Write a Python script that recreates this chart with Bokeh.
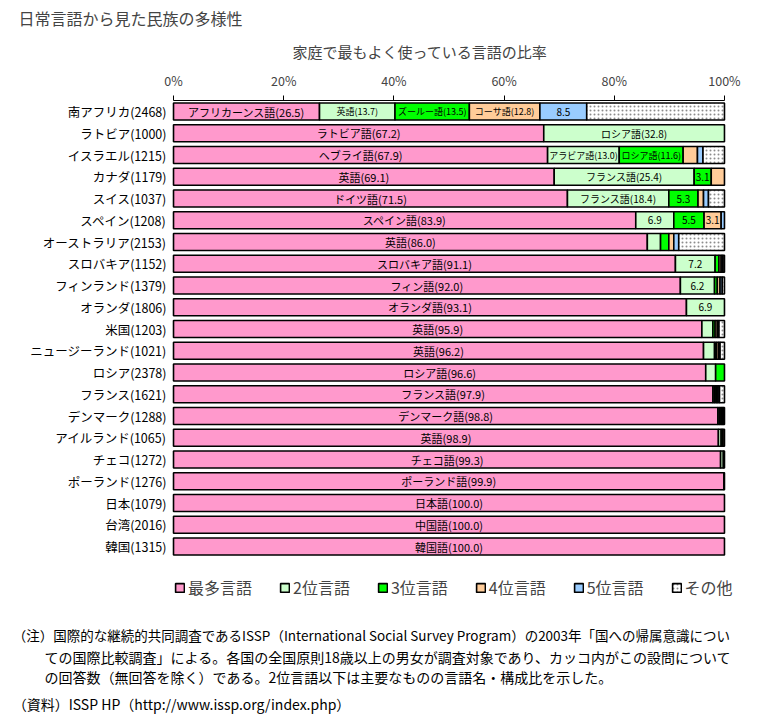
from bokeh.plotting import figure
from bokeh.models import Range1d, FixedTicker, Title, Legend, LegendItem, ColumnDataSource
from bokeh.embed import file_html
from bokeh.resources import INLINE
from bokeh.core.properties import value

FONT = "Noto Sans CJK JP"

countries = ["南アフリカ(2468)", "ラトビア(1000)", "イスラエル(1215)", "カナダ(1179)", "スイス(1037)",
             "スペイン(1208)", "オーストラリア(2153)", "スロバキア(1152)", "フィンランド(1379)", "オランダ(1806)",
             "米国(1203)", "ニュージーランド(1021)", "ロシア(2378)", "フランス(1621)", "デンマーク(1288)",
             "アイルランド(1065)", "チェコ(1272)", "ポーランド(1276)", "日本(1079)", "台湾(2016)", "韓国(1315)"]

rank1 = [26.5, 67.2, 67.9, 69.1, 71.5, 83.9, 86.0, 91.1, 92.0, 93.1, 95.9, 96.2, 96.6, 97.9, 98.8, 98.9, 99.3, 99.9, 100.0, 100.0, 100.0]
rank2 = [13.7, 32.8, 13.0, 25.4, 18.4, 6.9, 2.4, 7.2, 6.2, 6.9, 2.0, 2.0, 1.8, 0.3, 0.3, 0.5, 0.5, 0.1, 0, 0, 0]
rank3 = [13.5, 0, 11.6, 3.1, 5.3, 5.5, 1.5, 0.7, 0.5, 0, 0.4, 0.3, 1.6, 0.3, 0.3, 0.3, 0.2, 0, 0, 0, 0]
rank4 = [12.8, 0, 2.6, 2.4, 1.0, 3.1, 0.9, 0.4, 0.5, 0, 0.4, 0.4, 0, 0.3, 0.2, 0.3, 0, 0, 0, 0, 0]
rank5 = [8.5, 0, 1.0, 0, 0.9, 0.6, 0.9, 0.3, 0.4, 0, 0.3, 0.3, 0, 0.3, 0.2, 0, 0, 0, 0, 0, 0]
others = [25.0, 0, 3.9, 0, 2.9, 0, 8.3, 0.3, 0.4, 0, 1.0, 0.8, 0, 0.9, 0.2, 0, 0, 0, 0, 0, 0]

label1 = ["アフリカーンス語(26.5)", "ラトビア語(67.2)", "ヘブライ語(67.9)", "英語(69.1)", "ドイツ語(71.5)",
          "スペイン語(83.9)", "英語(86.0)", "スロバキア語(91.1)", "フィン語(92.0)", "オランダ語(93.1)",
          "英語(95.9)", "英語(96.2)", "ロシア語(96.6)", "フランス語(97.9)", "デンマーク語(98.8)",
          "英語(98.9)", "チェコ語(99.3)", "ポーランド語(99.9)", "日本語(100.0)", "中国語(100.0)", "韓国語(100.0)"]
label2 = ["英語(13.7)", "ロシア語(32.8)", "アラビア語(13.0)", "フランス語(25.4)", "フランス語(18.4)",
          "6.9", "", "7.2", "6.2", "6.9", "", "", "", "", "", "", "", "", "", "", ""]
label3 = ["ズールー語(13.5)", "", "ロシア語(11.6)", "3.1", "5.3", "5.5"] + [""] * 15
label4 = ["コーサ語(12.8)", "", "", "", "", "3.1"] + [""] * 15
label5 = ["8.5"] + [""] * 20

series_names = ["最多言語", "2位言語", "3位言語", "4位言語", "5位言語", "その他"]
colors = ["#FF99CC", "#CCFFCC", "#00FF00", "#FFCC99", "#99CCFF", "#FFFFFF"]
tick_values = [0, 20, 40, 60, 80, 100]
tick_labels = ["0%", "20%", "40%", "60%", "80%", "100%"]

title_text = "日常言語から見た民族の多様性"
subtitle_text = "家庭で最もよく使っている言語の比率"
notes = ["（注）国際的な継続的共同調査であるISSP（International Social Survey Program）の2003年「国への帰属意識につい",
         "ての国際比較調査」による。各国の全国原則18歳以上の男女が調査対象であり、カッコ内がこの設問について",
         "の回答数（無回答を除く）である。2位言語以下は主要なものの言語名・構成比を示した。",
         "（資料）ISSP HP（http://www.issp.org/index.php）"]

p = figure(frame_width=746, frame_height=620, output_backend="svg", toolbar_location=None,
           x_range=Range1d(-29.95, 105.45), y_range=Range1d(28.0, -0.506),
           x_axis_location="above", y_axis_location=None,
           min_border_left=8, min_border_right=0, min_border_top=0, min_border_bottom=0)
p.outline_line_color = None
p.grid.visible = False

series = [rank1, rank2, rank3, rank4, rank5, others]
labels = [label1, label2, label3, label4, label5, [""] * 21]
cum = [0.0] * len(countries)
renderers = []
tx, ty, tt, tf = [], [], [], []
for k, vals in enumerate(series):
    ys, ls, rs = [], [], []
    for i, v in enumerate(vals):
        if v > 0:
            ys.append(i); ls.append(cum[i]); rs.append(cum[i] + v)
            lab = labels[k][i]
            if lab:
                tx.append(cum[i] + v / 2); ty.append(i); tt.append(lab)
                if k == 0:
                    tf.append("11px")
                elif len(lab) > 4 and v < 16:
                    tf.append("9px")
                else:
                    tf.append("10px")
        cum[i] += v
    src = ColumnDataSource(dict(y=ys, left=ls, right=rs))
    kw = {}
    if k == 5:
        kw = dict(hatch_pattern=".", hatch_color="#8c8c8c", hatch_scale=4, hatch_weight=0.6)
    r = p.hbar(y="y", left="left", right="right", height=0.78, source=src,
               fill_color=colors[k], line_color="black", line_width=1.6, **kw)
    renderers.append(r)

p.text(x="x", y="y", text="t", source=ColumnDataSource(dict(x=tx, y=ty, t=tt, fs=tf)),
       text_align="center", text_baseline="middle", text_font=value(FONT),
       text_font_size="fs", text_color="black")

# country labels (category axis)
p.text(x=[0] * len(countries), y=list(range(len(countries))), text=countries, x_offset=-7,
       text_align="right", text_baseline="middle", text_font=value(FONT),
       text_font_size="12.5px", text_color="black")

xa = p.xaxis[0]
xa.ticker = FixedTicker(ticks=tick_values)
xa.major_label_overrides = {v: l for v, l in zip(tick_values, tick_labels)}
xa.bounds = (tick_values[0], tick_values[-1])
xa.major_tick_out = 5
xa.major_tick_in = 0
xa.minor_tick_out = 0
xa.minor_tick_in = 0
xa.axis_line_color = "black"
xa.axis_line_width = 1
xa.major_tick_line_color = "black"
xa.major_label_text_font = FONT
xa.major_label_text_font_size = "12.5px"
xa.major_label_standoff = 6

legend = Legend(items=[LegendItem(label=n, renderers=[r]) for n, r in zip(series_names, renderers)],
                orientation="horizontal", location=(166, 121), label_text_font=FONT,
                label_text_font_size="16px", glyph_width=11, glyph_height=11, label_standoff=3,
                spacing=27, border_line_color=None, background_fill_alpha=0, margin=0, padding=0)
p.add_layout(legend)

p.add_layout(Title(text=subtitle_text, align="left", offset=284, text_font=FONT,
                   text_font_size="15px", text_font_style="normal", standoff=11), "above")
p.add_layout(Title(text=title_text, align="left", offset=10, text_font=FONT,
                   text_font_size="16px", text_font_style="normal", standoff=7), "above")

note_x = [-29.2, -23.4, -23.4, -29.2]
note_y = [24.09, 25.06, 25.98, 27.22]
note_fs = ["13.5px", "14px", "14px", "14px"]
p.text(x=note_x, y=note_y, text=notes, text_align="left", text_baseline="middle",
       text_font=value(FONT), text_font_size=note_fs, text_color="black")

open("out.html", "w").write(file_html(p, INLINE))
